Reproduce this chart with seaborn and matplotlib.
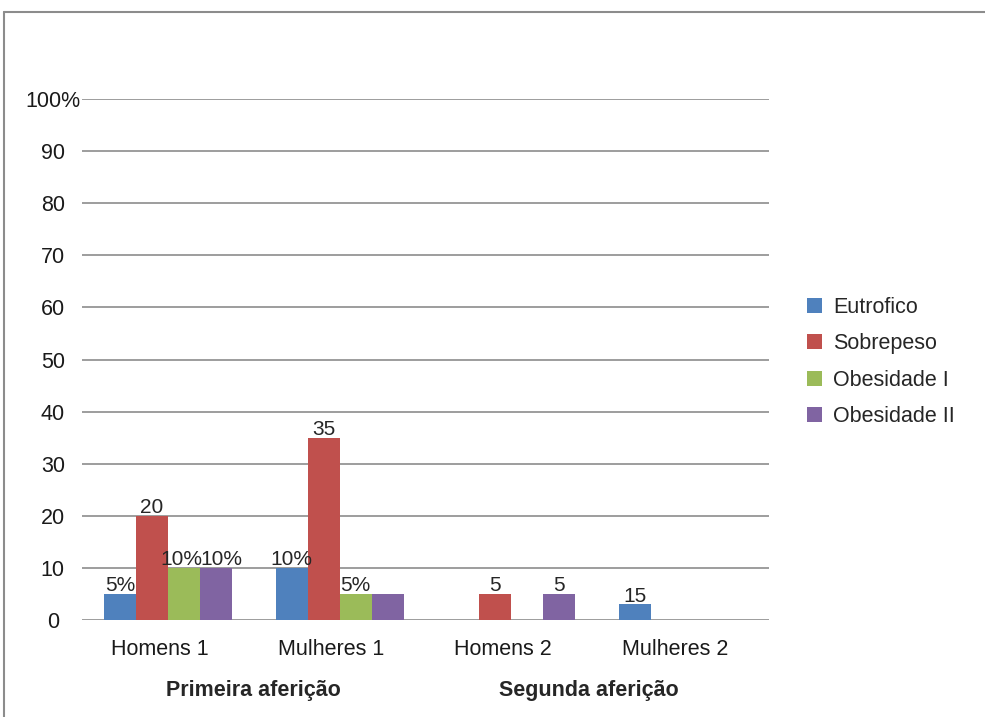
import matplotlib
matplotlib.use("Agg")
import matplotlib.pyplot as plt
import matplotlib.transforms as mtransforms
from matplotlib.lines import Line2D
import seaborn as sns
import pandas as pd

# dados
grupos = ["Homens 1", "Mulheres 1", "Homens 2", "Mulheres 2"]
classes = ["Eutrofico", "Sobrepeso", "Obesidade I", "Obesidade II"]
eutrofico = [5, 10, 0, 3]
sobrepeso = [20, 35, 5, 0]
obesidade_1 = [10, 5, 0, 0]
obesidade_2 = [10, 5, 5, 0]
# rótulos como aparecem no original
rot_eutrofico = ["5%", "10%", "", "15"]
rot_sobrepeso = ["20", "35", "5", ""]
rot_obesidade_1 = ["10%", "5%", "", ""]
rot_obesidade_2 = ["10%", "", "5", ""]
afericoes = ["Primeira aferição", "Segunda aferição"]
y_ticks = [0, 10, 20, 30, 40, 50, 60, 70, 80, 90, 100]
y_labels = ["0", "10", "20", "30", "40", "50", "60", "70", "80", "90", "100%"]

cores = ["#4F81BD", "#C0504D", "#9BBB59", "#8064A2"]

linhas = []
for cls, vals in zip(classes, [eutrofico, sobrepeso, obesidade_1, obesidade_2]):
    for g, v in zip(grupos, vals):
        linhas.append({"grupo": g, "classe": cls, "valor": v})
df = pd.DataFrame(linhas)

sns.set_style("white")
plt.rcParams["font.family"] = ["Liberation Sans", "DejaVu Sans"]

fig = plt.figure(figsize=(9.85, 7.17), dpi=100)
ax = fig.add_axes([82 / 985, 1 - 620 / 717, (769 - 82) / 985, (620 - 99) / 717])

sns.barplot(data=df, x="grupo", y="valor", hue="classe", order=grupos,
            hue_order=classes, palette=cores, width=0.745, saturation=1,
            errorbar=None, ax=ax, legend=True, linewidth=0)

rotulos = [rot_eutrofico, rot_sobrepeso, rot_obesidade_1, rot_obesidade_2]
for i, (cont, rots) in enumerate(zip(ax.containers, rotulos)):
    anns = ax.bar_label(cont, labels=rots, padding=-1, fontsize=15)
    # afasta um pouco os dois "10%" que se tocam
    if i == 2:
        anns[0].xyann = (-2, anns[0].xyann[1])
    if i == 3:
        anns[0].xyann = (4, anns[0].xyann[1])

ax.set_ylim(0, 100)
ax.set_xlim(-0.5, 3.5)
ax.set_yticks(y_ticks)
ax.set_yticklabels(y_labels, ha="center")
ax.yaxis.grid(True, color="#8c8c8c", linewidth=1.2)
ax.set_axisbelow(True)
for s in ax.spines.values():
    s.set_visible(False)
ax.tick_params(axis="both", length=0, labelsize=15.5, colors="#1a1a1a")
ax.tick_params(axis="x", pad=14)
ax.tick_params(axis="y", pad=21)
ax.set_xlabel("")
ax.set_ylabel("")

desloc = mtransforms.ScaledTranslation(-8 / 100, 0, fig.dpi_scale_trans)
for lab in ax.get_xticklabels():
    lab.set_transform(lab.get_transform() + desloc)

trans = mtransforms.blended_transform_factory(ax.transData, ax.transAxes)
for xpos, txt in zip([0.5, 2.45], afericoes):
    ax.text(xpos, -0.135, txt, transform=trans, ha="center", va="center",
            fontsize=15.5, fontweight="bold")

leg = ax.legend(loc="center left", bbox_to_anchor=(788 / 985, 1 - 362 / 717),
                bbox_transform=fig.transFigure, frameon=False, fontsize=15.5,
                handlelength=0.7, handleheight=0.7, handletextpad=0.5,
                labelspacing=0.72)

# moldura do gráfico
fig.add_artist(Line2D([4 / 985, 1], [1 - 12 / 717] * 2, color="#8c8c8c", lw=1.5))
fig.add_artist(Line2D([4 / 985] * 2, [0, 1 - 12 / 717], color="#8c8c8c", lw=1.5))

fig.savefig("out.png", dpi=100)
